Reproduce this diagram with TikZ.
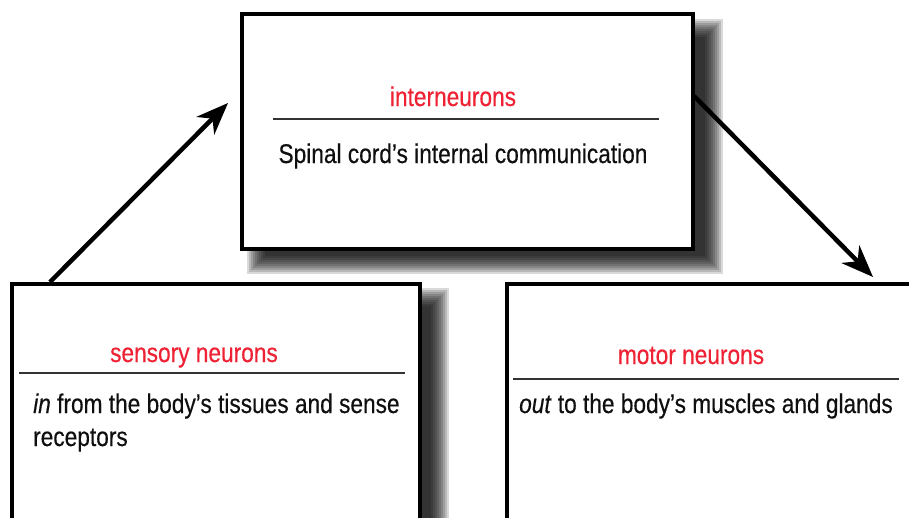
\documentclass[tikz,border=0pt]{standalone}
\usepackage{fontspec}
\setmainfont{Liberation Sans}[FakeStretch=0.84,FakeBold=0.35]
\usetikzlibrary{arrows.meta}
\definecolor{titlered}{RGB}{238,34,52}
\definecolor{bodytext}{RGB}{15,15,15}
\newcommand\softshadow[4]{%
  \foreach \k in {0,...,9}{%
    \pgfmathsetmacro\shd{9-2*\k}%
    \fill[black,fill opacity=0.15] ({#1-\shd},{#2-\shd}) rectangle ({#3+\shd},{#4+\shd});
  }}
\tikzset{
  box/.style={draw=black,line width=4pt,fill=white,inner sep=0pt,anchor=north west},
  boxtitle/.style={text=titlered,font=\fontsize{27}{32}\selectfont,inner sep=0pt,anchor=base},
  boxbody/.style={text=bodytext,font=\fontsize{27}{33}\selectfont,inner sep=0pt},
  rule/.style={draw=black!80,line width=1.2pt},
  flow/.style={draw=black,line width=4.5pt,-{Stealth[length=32pt,width=25pt,inset=10pt]}}
}
\begin{document}
\begin{tikzpicture}[x=1pt,y=-1pt]
\useasboundingbox (0,0) rectangle (909,517);
\clip (0,0) rectangle (909,517);
% shadows
\softshadow{256}{28}{714}{265}
\softshadow{26}{297}{440}{700}
\softshadow{525}{299}{1100}{700}
% boxes
\node[box,minimum width=451pt,minimum height=235pt] (inter) at (240,12) {};
\node[box,minimum width=408pt,minimum height=400pt] (sensory) at (10,282) {};
\node[box,minimum width=495pt,minimum height=400pt] (motor) at (505,282) {};
% top box
\node[boxtitle] (intertitle) at (453,106) {interneurons};
\draw[rule] (273,119) -- (659,119);
\node[boxbody,anchor=base] (interbody) at (463,163) {Spinal cord’s internal communication};
% left box
\node[boxtitle] (senstitle) at (194,362) {sensory neurons};
\draw[rule] (19,373) -- (405,373);
\node[boxbody,anchor=base west] (sensbody1) at (33,413) {\textit{in} from the body’s tissues and sense};
\node[boxbody,anchor=base west] (sensbody2) at (33,446) {receptors};
% right box
\node[boxtitle] (mottitle) at (691,364) {motor neurons};
\draw[rule] (513,379) -- (899,379);
\node[boxbody,anchor=base west] (motbody) at (519,413) {\textit{out} to the body’s muscles and glands};
% arrows
\coordinate (s1) at (50,282);
\coordinate (t1) at (228,103);
\coordinate (s2) at (694,96);
\coordinate (t2) at (873,277);
\draw[flow] (s1) -- (t1);
\draw[flow] (s2) -- (t2);
\end{tikzpicture}
\end{document}
